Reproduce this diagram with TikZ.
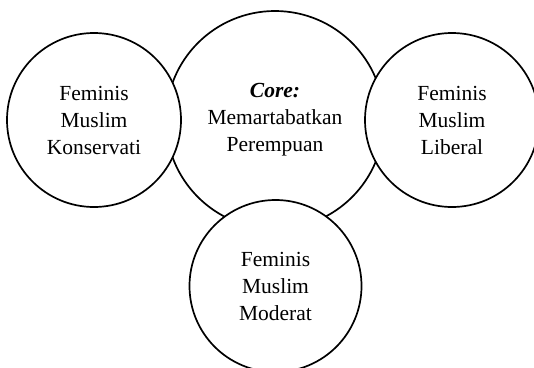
\documentclass[tikz,border=0pt]{standalone}
\usepackage{fontspec}
\setmainfont{Liberation Serif}
\begin{document}
\begin{tikzpicture}[x=1pt,y=-1pt,
  ring/.style={circle,draw=black,line width=1.7pt,fill=white,inner sep=0pt,
    align=center,font=\fontsize{21.5}{27}\selectfont}]
\useasboundingbox (0,0) rectangle (534,367);
\begin{scope}
\clip (0,0) rectangle (534,367);
\node[ring,minimum size=218pt] (core) at (275,120) {\textbf{\textit{Core:}}\\Memartabatkan\\Perempuan};
\node[ring,minimum size=174pt] (kon) at (94,120) {Feminis\\Muslim\\Konservati};
\node[ring,minimum size=174pt] (lib) at (452,120) {Feminis\\Muslim\\Liberal};
\node[ring,minimum size=172pt] (mod) at (275.5,286) {Feminis\\Muslim\\Moderat};
\end{scope}
\end{tikzpicture}
\end{document}
